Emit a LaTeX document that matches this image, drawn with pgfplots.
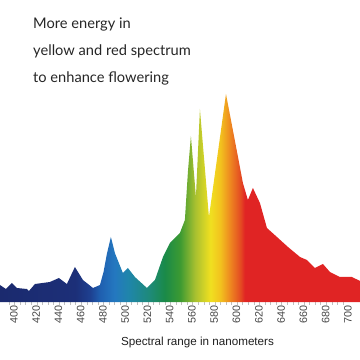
\documentclass[border=0pt]{standalone}
\usepackage{pgfplots}
\pgfplotsset{compat=1.18}
\usepackage{fontspec}
\setmainfont{Liberation Sans}
\newfontfamily\titlefont{Lato}
\definecolor{c0}{HTML}{1B2A6E}
\definecolor{c1}{HTML}{1C2F78}
\definecolor{c2}{HTML}{1E4090}
\definecolor{c3}{HTML}{1F5FB0}
\definecolor{c4}{HTML}{2478C0}
\definecolor{c5}{HTML}{1F86A8}
\definecolor{c6}{HTML}{1E8A78}
\definecolor{c7}{HTML}{1A8A48}
\definecolor{c8}{HTML}{3C9A32}
\definecolor{c9}{HTML}{A8C030}
\definecolor{c10}{HTML}{F0E020}
\definecolor{c11}{HTML}{F2C21E}
\definecolor{c12}{HTML}{EE8A20}
\definecolor{c13}{HTML}{E44A22}
\definecolor{c14}{HTML}{E02424}
\pgfdeclarehorizontalshading{spectrum}{100bp}{color(0bp)=(c0); color(25bp)=(c0); color(35.5bp)=(c1); color(37.5bp)=(c2); color(38.9bp)=(c3); color(40.9bp)=(c4); color(43bp)=(c5); color(45.8bp)=(c6); color(47.9bp)=(c7); color(50bp)=(c8); color(52.1bp)=(c9); color(54.2bp)=(c10); color(55.6bp)=(c11); color(56.9bp)=(c12); color(58.4bp)=(c13); color(59bp)=(c14); color(100bp)=(c14)}
\begin{document}
\begin{tikzpicture}
\begin{axis}[
  at={(0,0)}, anchor=south west,
  width=360bp, height=302bp, scale only axis,
  xmin=392, xmax=715.4, ymin=0, ymax=302,
  axis y line=none, axis x line=bottom,
  x axis line style={-, draw=none},
  xtick={400,420,...,700},
  minor x tick num=3,
  tick align=outside,
  major tick length=3bp, minor tick length=2.5bp,
  every tick/.style={gray!50, thin},
  /pgf/number format/assume math mode=true,
  /pgf/number format/1000 sep={},
  xticklabel style={rotate=90, anchor=east, inner sep=0pt, font=\fontsize{10.8}{11}\selectfont, text=black!72, yshift=-5bp},
  clip=false,
]
\addplot[draw=none, shading=spectrum] coordinates {
(392,17) (397.3,13) (402.7,19) (407.2,14) (416.2,13) (418,11) (423.4,18)
(436.8,20) (444.9,24) (452.1,18) (459.3,35) (466.5,22) (475.5,14) (481.8,17)
(485,30) (488,48) (491.6,65) (495.2,49) (502.4,29) (506.9,34) (513.2,25)
(524,14) (531.2,22) (538.4,45) (544.7,59) (553.6,69) (558.1,82) (560.8,130)
(563.5,166) (568,105) (571.6,193) (579.7,85) (595,208) (605.8,145) (610.2,119)
(614.7,102) (619.2,114) (625.5,99) (631.8,74) (640.8,65) (650.7,55) (661.5,45)
(667.7,42) (674.9,34) (682.1,38) (688.4,30) (697.4,25) (708.2,25) (715.4,21)
} \closedcycle;
\end{axis}
\begin{scope}[font=\titlefont\fontsize{14.7}{15}\selectfont, text=black!85]
\node[anchor=base west, inner sep=0pt] at (33bp,273bp) {More energy in};
\node[anchor=base west, inner sep=0pt] at (33bp,246bp) {yellow and red spectrum};
\node[anchor=base west, inner sep=0pt] at (33bp,219bp) {to enhance flowering};
\end{scope}
\node[anchor=base, inner sep=0pt, font=\fontsize{11.7}{12}\selectfont, text=black!88] at (197.5bp,-43bp) {Spectral range in nanometers};
\pgfresetboundingbox
\path (0,-58bp) rectangle (360bp,302bp);
\end{tikzpicture}
\end{document}
